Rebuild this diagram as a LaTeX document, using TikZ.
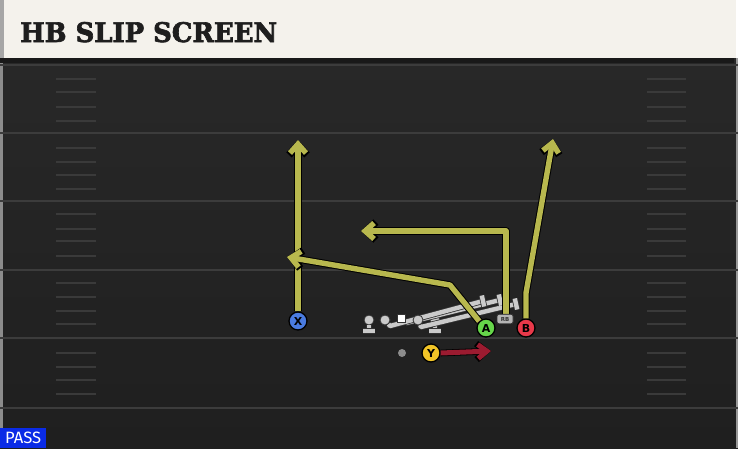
\documentclass[tikz,border=0pt]{standalone}
\usepackage{fontspec}
\usetikzlibrary{arrows.meta,calc}
\newfontfamily\titlefont[BoldFeatures={FakeBold=2.5}]{DejaVu Serif}
\newfontfamily\labelfont{DejaVu Sans}
\newfontfamily\passfont{Fira Sans}
\definecolor{fieldtop}{HTML}{282828}
\definecolor{fieldbot}{HTML}{1F1F1F}
\definecolor{fieldline}{HTML}{3C3C3C}
\definecolor{hashcol}{HTML}{3A3A3A}
\definecolor{cream}{HTML}{F4F2EC}
\definecolor{titlecol}{HTML}{1E1E1E}
\definecolor{routecol}{HTML}{B8B84E}
\definecolor{redroute}{HTML}{9B1B30}
\definecolor{xblue}{HTML}{4A7BE0}
\definecolor{agreen}{HTML}{66D64A}
\definecolor{bred}{HTML}{E8394A}
\definecolor{yyellow}{HTML}{F2C527}
\definecolor{passblue}{HTML}{0A2BE6}
\definecolor{olgray}{HTML}{CACACA}
\definecolor{rbgray}{HTML}{B4B4B4}
\begin{document}
\begin{tikzpicture}[x=1pt,y=-1pt,
  player/.style={circle, draw=black, line width=1.3pt, minimum size=18pt, inner sep=0pt,
    font=\labelfont\bfseries\fontsize{11}{11}\selectfont},
  route/.style={draw=routecol, line width=5.4pt, line join=round,
    -{Straight Barb[length=9pt,width=16pt]},
    preaction={draw=black, line width=7.4pt, line join=round, -{Straight Barb[length=9.5pt,width=18pt]}}},
  redr/.style={draw=redroute, line width=5pt,
    -{Straight Barb[length=9pt,width=14pt]},
    preaction={draw=black, line width=6.6pt, -{Straight Barb[length=9.5pt,width=16pt]}}},
  oline/.style={draw=olgray, line width=4.4pt, line join=round,
    preaction={draw=black!80, line width=6pt, line join=round}},
  lman/.style={circle, fill=olgray, draw=black!80, line width=0.8pt, minimum size=10pt, inner sep=0pt},
  hash/.style={draw=hashcol, line width=2pt},
  yard/.style={draw=fieldline, line width=2.2pt},
]
\useasboundingbox (0,0) rectangle (738,448);
% field
\shade[top color=fieldtop, bottom color=fieldbot] (0,58) rectangle (738,448);
\fill[black!45] (0,58) rectangle (2.5,448);
\fill[black!40] (735.5,58) rectangle (738,448);
\fill[black!90] (0,58) rectangle (734,63);
% yard lines
\foreach \yy in {65,133,201,270,338,408} \draw[yard] (0,\yy) -- (738,\yy);
% hash marks
\foreach \yy in {79,92,107,121,148,162,175,189,214,229,241,256,283,297,311,324,353,367,380,394}{
  \draw[hash] (56,\yy) -- (96,\yy);
  \draw[hash] (647,\yy) -- (686,\yy);
}
% header
\fill[cream] (0,0) rectangle (736,58);
\fill[black!35] (0,0) rectangle (4,58);
\node[anchor=base west, inner sep=0pt, text=titlecol] (title) at (20,42)
  {\resizebox{257pt}{20pt}{\titlefont\bfseries HB SLIP SCREEN}};
% PASS tag
\fill[passblue] (0,428) rectangle (46,448);
\node[anchor=base west, inner sep=0pt, text=white] (pass) at (5,443.5)
  {\resizebox{36pt}{11.5pt}{\passfont PASS}};
% offensive line
\node[lman] (LT) at (369,320) {};
\coordinate (LTb) at (369,331);
\draw[oline] (LT) -- (LTb);
\draw[oline] (363,331) -- (375,331);
\node[lman] (RT) at (435,320) {};
\coordinate (RTb) at (435,331);
\draw[oline] (RT) -- (RTb);
\draw[oline] (429,331) -- (441,331);
\node[lman] (LG) at (385,320) {};
\node[lman] (RG) at (418,320) {};
\coordinate (L1a) at (390,326); \coordinate (L1b) at (483,301);
\coordinate (L2a) at (406,323); \coordinate (L2b) at (500,300);
\coordinate (L3a) at (421,327); \coordinate (L3b) at (516,304);
\draw[oline] (L2a) -- (L2b);
\draw[oline] (LG) -- (L1a) -- (L1b);
\draw[oline] (RG) -- (L3a) -- (L3b);
\draw[oline] ($(L1b)+(-1.2,-5.5)$) -- ($(L1b)+(1.2,5.5)$);
\draw[oline] ($(L2b)+(-1.2,-5.5)$) -- ($(L2b)+(1.2,5.5)$);
\draw[oline] ($(L3b)+(-1.2,-5.5)$) -- ($(L3b)+(1.2,5.5)$);
\node[lman] (LG2) at (385,320) {};
\node[lman] (RG2) at (418,320) {};
\node[draw=black!80, fill=white, line width=0.8pt, minimum size=8pt, inner sep=0pt] (C) at (401,318) {};
% players
\node[player, fill=xblue] (X) at (298,321) {X};
\node[player, fill=agreen] (A) at (486,328) {A};
\node[player, fill=bred] (B) at (526,328) {B};
\node[player, fill=yyellow] (Y) at (431,353) {Y};
\node[circle, fill=black!45, minimum size=8pt, inner sep=0pt] (dot) at (402,353) {};
% routes
\coordinate (Xend) at (298,140);
\draw[route] (X.north) -- (Xend);
\coordinate (Abend) at (450,285);
\coordinate (Aend) at (287,257);
\draw[route] (A.north west) -- (Abend) -- (Aend);
\coordinate (RBc) at (506,231);
\coordinate (RBend) at (361,231);
\draw[route] (506,314) -- (RBc) -- (RBend);
\node[draw=black!80, fill=rbgray, rounded corners=2pt, line width=0.8pt, minimum width=16pt, minimum height=9.5pt,
  inner sep=0pt, font=\labelfont\bfseries\fontsize{5.5}{5.5}\selectfont, text=black!80] (RB) at (505,319) {RB};
\coordinate (Bbend) at (526,293);
\coordinate (Bend) at (553,139);
\draw[route] (B.north) -- (Bbend) -- (Bend);
\coordinate (Yend) at (491,351);
\draw[redr] (Y.east) -- (Yend);
\end{tikzpicture}
\end{document}
